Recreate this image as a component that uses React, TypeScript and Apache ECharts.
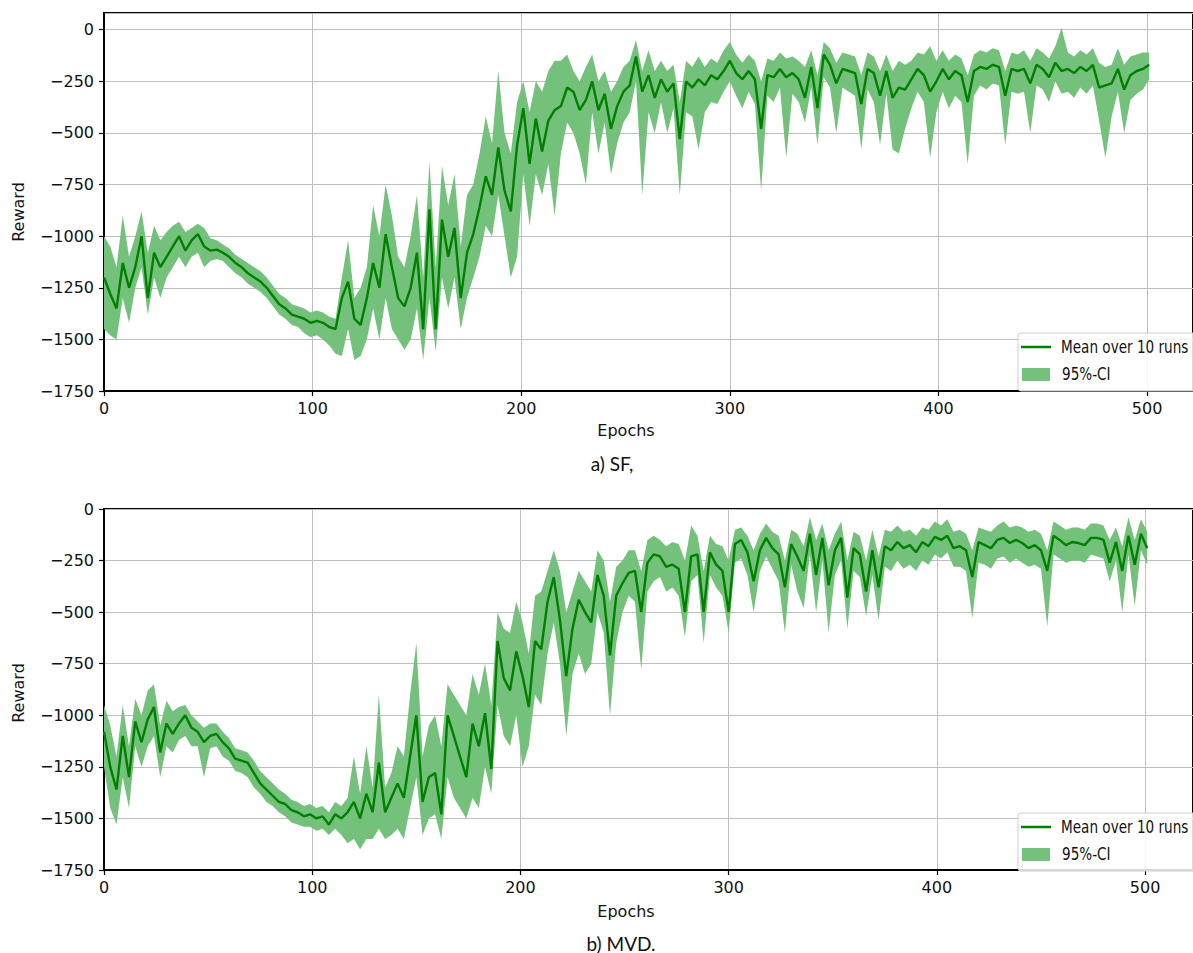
import React, { useEffect, useRef } from 'react';
import * as echarts from 'echarts';

// epochs sampled every 3 epochs (0 .. 501)
const epochs: number[] = Array.from({ length: 168 }, (_, i) => i * 3);

// ---------- a) SF ----------
const sfMean = [
  -1200, -1280, -1350, -1130, -1250, -1150, -1000, -1300, -1080, -1150,
  -1100, -1050, -1000, -1070, -1020, -990, -1050, -1070, -1065, -1080,
  -1100, -1130, -1150, -1180, -1200, -1220, -1250, -1290, -1330, -1350,
  -1380, -1390, -1400, -1420, -1410, -1420, -1440, -1450, -1300, -1220,
  -1400, -1430, -1300, -1130, -1250, -990, -1150,
  -1300, -1340, -1250, -1080, -1450, -870, -1450, -920, -1100, -960,
  -1300, -1080, -990, -860, -710, -800, -570, -780, -880, -560,
  -380, -650, -430, -590, -440, -390, -370, -280, -300, -390,
  -340, -250, -390, -310, -480, -370, -300, -270, -130, -300,
  -220, -330, -240, -300, -260, -530, -250, -280, -240, -270,
  -220, -240, -200, -150, -210, -240, -200, -240, -480, -220,
  -230, -190, -230, -210,
  -240, -330, -180, -380, -120, -170, -260, -190, -200, -210,
  -360, -190, -210, -320, -200, -330, -280, -290, -240, -190,
  -220, -300, -250, -190, -240, -200, -220, -350, -200, -180,
  -190, -170, -180, -320, -190, -200, -190, -260, -170, -190,
  -230, -160, -200, -190, -210, -180, -200, -170, -280, -270,
  -260, -190, -290, -220, -200, -190, -170,
];
const sfLower = [
  -1450, -1480, -1500, -1300, -1420, -1250, -1150, -1380, -1200, -1300,
  -1200, -1150, -1100, -1150, -1100, -1080, -1150, -1120, -1110, -1120,
  -1150, -1180, -1200, -1230, -1250, -1270, -1300, -1340, -1380, -1400,
  -1430, -1440, -1470, -1490, -1480, -1500, -1530, -1570, -1580, -1450,
  -1600, -1580, -1500, -1350, -1500, -1300, -1450,
  -1500, -1550, -1500, -1350, -1600, -1300, -1560, -1200, -1350, -1200,
  -1450, -1300, -1200, -1100, -950, -1000, -800, -1000, -1200, -1100,
  -700, -950, -700, -800, -650, -900, -600, -450, -500, -600,
  -750, -400, -600, -450, -700, -550, -450, -400, -250, -800,
  -400, -500, -350, -500, -380, -800, -400, -420, -580, -400,
  -350, -360, -300, -250, -320, -380, -300, -360, -780, -320,
  -350, -280, -620, -310,
  -350, -450, -280, -560, -230, -280, -500, -280, -300, -320,
  -580, -290, -350, -560, -310, -580, -600, -480, -380, -300,
  -350, -620, -400, -300, -380, -320, -350, -650, -320, -270,
  -290, -260, -270, -560, -300, -310, -300, -500, -270, -290,
  -350, -250, -310, -300, -330, -280, -310, -270, -440, -620,
  -420, -300, -500, -340, -310, -290, -240,
];
const sfUpper = [
  -1000, -1050, -1150, -900, -1100, -1000, -880, -1080, -950, -1020,
  -980, -950, -930, -980, -960, -940, -960, -1010, -1020, -1040,
  -1060, -1090, -1110, -1130, -1150, -1170, -1200, -1240, -1280, -1300,
  -1330, -1340, -1350, -1370, -1360, -1370, -1390, -1400, -1200, -1020,
  -1300, -1250, -1150, -850, -1000, -750, -900,
  -1100, -1150, -1000, -800, -1200, -640, -1150, -660, -850, -700,
  -1050, -800, -750, -600, -420, -550, -200, -500, -600, -350,
  -250, -400, -250, -300, -200, -150, -150, -120, -200, -250,
  -180, -120, -250, -200, -300, -250, -180, -150, -50, -200,
  -100, -200, -150, -200, -170, -350, -150, -180, -130, -180,
  -140, -160, -100, -60, -120, -160, -120, -150, -250, -140,
  -150, -110, -140, -130,
  -150, -180, -100, -220, -60, -90, -160, -110, -120, -130,
  -220, -110, -130, -200, -120, -200, -150, -170, -150, -110,
  -120, -80, -150, -100, -150, -120, -140, -220, -120, -100,
  -110, -90, -100, -200, -110, -120, -100, -150, -90, -110,
  -140, -80, 10, -110, -130, -100, -120, -90, -160, -180,
  -170, -90, -170, -130, -120, -110, -110,
];

// ---------- b) MVD ----------
const mvdMean = [
  -1080, -1250, -1360, -1100, -1300, -1030, -1130, -1020, -960, -1180,
  -1040, -1090, -1040, -1000, -1060, -1080, -1130, -1100, -1090, -1130,
  -1160, -1210, -1220, -1230, -1280, -1330, -1360, -1390, -1420, -1430,
  -1460, -1470, -1490, -1480, -1500, -1490, -1530, -1480, -1500, -1470,
  -1420, -1500, -1380, -1470, -1230, -1470, -1400,
  -1330, -1400, -1200, -1000, -1420, -1300, -1280, -1480, -1000, -1100,
  -1200, -1300, -1040, -1150, -990, -1260, -640, -820, -880, -690,
  -810, -960, -640, -680, -450, -330, -540, -810, -580, -440,
  -500, -550, -320, -420, -710, -420, -360, -310, -300, -500,
  -260, -220, -230, -280, -270, -290, -500, -230, -220, -500,
  -210, -270, -300, -500, -170, -150, -210, -350, -200, -140,
  -190, -220, -380, -170,
  -230, -300, -120, -320, -140, -370, -200, -140, -430, -190,
  -220, -400, -200, -380, -180, -200, -160, -190, -175, -210,
  -160, -180, -135, -150, -130, -190, -180, -200, -330, -160,
  -175, -190, -150, -140, -165, -150, -165, -190, -175, -200,
  -300, -130, -150, -175, -160, -165, -175, -140, -140, -150,
  -260, -160, -300, -130, -270, -120, -190,
];
const mvdLower = [
  -1250, -1450, -1530, -1300, -1450, -1150, -1250, -1150, -1100, -1300,
  -1150, -1180, -1120, -1100, -1150, -1150, -1300, -1160, -1150, -1200,
  -1220, -1270, -1280, -1300, -1350, -1380, -1420, -1440, -1470, -1490,
  -1520, -1530, -1540, -1540, -1560, -1550, -1580, -1550, -1580, -1620,
  -1600, -1650, -1600, -1600, -1550, -1600, -1580,
  -1550, -1600, -1450, -1300, -1580, -1500, -1480, -1600, -1300, -1400,
  -1450, -1500, -1400, -1450, -1250, -1380, -950, -1100, -1150, -1000,
  -1250, -1150, -900, -950, -700, -550, -750, -1100, -800, -700,
  -800, -750, -500, -600, -1000, -650, -500, -420, -450, -780,
  -400, -350, -330, -400, -380, -420, -620, -350, -320, -650,
  -320, -380, -420, -600, -260, -240, -320, -500, -300, -230,
  -290, -350, -600, -270,
  -400, -480, -220, -500, -250, -600, -320, -250, -580, -300,
  -330, -520, -320, -540, -280, -300, -250, -290, -270, -300,
  -250, -270, -220, -240, -210, -280, -280, -300, -530, -260,
  -270, -290, -240, -230, -260, -240, -260, -280, -270, -290,
  -570, -220, -240, -260, -250, -250, -260, -220, -230, -240,
  -350, -250, -500, -220, -470, -200, -270,
];
const mvdUpper = [
  -950, -1050, -1200, -950, -1150, -920, -1000, -880, -850, -1050,
  -930, -980, -960, -950, -1000, -1030, -1060, -1040, -1040, -1080,
  -1110, -1160, -1170, -1180, -1220, -1270, -1300, -1330, -1360, -1380,
  -1410, -1420, -1440, -1430, -1450, -1440, -1470, -1420, -1440, -1400,
  -1200, -1380, -1150, -1350, -900, -1350, -1280,
  -1150, -1200, -900, -650, -1200, -1050, -1000, -1150, -850, -900,
  -950, -1000, -800, -900, -750, -950, -500, -580, -600, -450,
  -550, -700, -420, -400, -300, -200, -300, -500, -400, -300,
  -350, -400, -200, -250, -450, -280, -250, -200, -200, -300,
  -150, -130, -150, -180, -160, -170, -250, -80, -130, -300,
  -130, -170, -180, -250, -100, -90, -130, -200, -120, -70,
  -110, -130, -250, -100,
  -120, -180, -40, -150, -70, -200, -120, -60, -250, -110,
  -130, -250, -100, -230, -100, -110, -80, -110, -100, -130,
  -90, -100, -60, -80, -50, -110, -100, -120, -200, -90,
  -100, -110, -80, -60, -90, -80, -90, -110, -100, -120,
  -200, -60, -80, -100, -90, -90, -100, -70, -70, -80,
  -150, -90, -180, -40, -150, -50, -110,
];

const meanName = 'Mean over 10 runs';
const ciName = '95%-CI';
const captions = ['a) SF,', 'b) MVD.'];

const LINE = '#008000';
const BAND = '#74c17b';
const TICK_FONT = '"DejaVu Sans", sans-serif';

function bandSeries(lower: number[], upper: number[], idx: number) {
  const n = Math.min(epochs.length, lower.length, upper.length);
  const data = epochs.slice(0, n).map((e, i) => [e, lower[i], upper[i]]);
  return {
    type: 'custom',
    name: ciName,
    xAxisIndex: idx,
    yAxisIndex: idx,
    data,
    encode: { x: 0, y: [1, 2] },
    silent: true,
    z: 1,
    renderItem: (params: any, api: any) => {
      if (params.dataIndex !== 0) return null;
      const top = data.map((d) => api.coord([d[0], d[2]]));
      const bot = data.map((d) => api.coord([d[0], d[1]])).reverse();
      return {
        type: 'polygon',
        shape: { points: top.concat(bot) },
        style: { fill: BAND, stroke: null },
      };
    },
  };
}

function meanSeries(mean: number[], idx: number) {
  const n = Math.min(epochs.length, mean.length);
  return {
    type: 'line',
    name: meanName,
    xAxisIndex: idx,
    yAxisIndex: idx,
    data: epochs.slice(0, n).map((e, i) => [e, mean[i]]),
    symbol: 'none',
    showSymbol: false,
    lineStyle: { color: LINE, width: 2.4 },
    itemStyle: { color: LINE },
    silent: true,
    z: 3,
  };
}

function xAxis(idx: number, max: number) {
  return {
    type: 'value',
    gridIndex: idx,
    min: 0,
    max,
    interval: 100,
    axisLine: { show: true, onZero: false, lineStyle: { color: '#000', width: 2 } },
    axisTick: { show: true, length: 5, lineStyle: { color: '#000', width: 1.2 } },
    axisLabel: { showMaxLabel: false, color: '#111', fontSize: 16, fontFamily: TICK_FONT, margin: 9 },
    splitLine: { show: true, lineStyle: { color: '#bdbdbd', width: 1 } },
  };
}

function yAxis(idx: number, max: number) {
  return {
    type: 'value',
    gridIndex: idx,
    min: -1750,
    max,
    interval: 250,
    axisLine: { show: true, lineStyle: { color: '#000', width: 2 } },
    axisTick: { show: true, length: 5, lineStyle: { color: '#000', width: 1.2 } },
    axisLabel: {
      showMaxLabel: max === 0,
      color: '#111',
      fontSize: 16,
      fontFamily: TICK_FONT,
      margin: 10,
      formatter: (v: number) => (v === 0 ? '0' : String(v).replace('-', '\u2212')),
    },
    splitLine: { show: true, lineStyle: { color: '#bdbdbd', width: 1 } },
  };
}

const LEGEND_FONT = '17px "DejaVu Sans", sans-serif';

function legendText(text: string, x: number, y: number) {
  return {
    type: 'text',
    x,
    y,
    scaleX: 0.8,
    style: {
      text,
      font: LEGEND_FONT,
      fill: '#111',
      textAlign: 'left',
      textVerticalAlign: 'middle',
      verticalAlign: 'middle',
    },
    z: 11,
  };
}

function legend(top: number) {
  return {
    type: 'group',
    children: [
      {
        type: 'rect',
        shape: { x: 1018, y: top, width: 200, height: 58, r: 3 },
        style: { fill: 'rgba(255,255,255,0.85)', stroke: '#cfcfcf', lineWidth: 1 },
        z: 10,
      },
      {
        type: 'line',
        shape: { x1: 1021, y1: top + 14, x2: 1051, y2: top + 14 },
        style: { stroke: LINE, lineWidth: 2.5 },
        z: 11,
      },
      {
        type: 'rect',
        shape: { x: 1022, y: top + 35, width: 28, height: 13 },
        style: { fill: BAND },
        z: 11,
      },
      legendText(meanName, 1061, top + 14),
      legendText(ciName, 1062, top + 41),
    ],
  };
}

function label(text: string, x: number, y: number, font: string, rotate = 0) {
  return {
    type: 'text',
    x,
    y,
    rotation: rotate,
    style: {
      text,
      font,
      fill: '#111',
      textAlign: 'center',
      textVerticalAlign: 'middle',
      verticalAlign: 'middle',
    },
    z: 12,
  };
}

export default function App() {
  const ref = useRef<HTMLDivElement>(null);
  useEffect(() => {
    if (!ref.current) return;
    const chart = echarts.init(ref.current, null, { renderer: 'svg' });
    const axisNameFont = '16px "DejaVu Sans", sans-serif';
    const capFont = '19px Lato, "Open Sans", sans-serif';
    chart.setOption({
      animation: false,
      backgroundColor: '#fff',
      grid: [
        { left: 104, top: 13, width: 1092, height: 378, show: true, borderColor: '#000', borderWidth: 2, backgroundColor: 'transparent' },
        { left: 104, top: 509, width: 1092, height: 361, show: true, borderColor: '#000', borderWidth: 2, backgroundColor: 'transparent' },
      ],
      xAxis: [xAxis(0, 522), xAxis(1, 523)],
      yAxis: [yAxis(0, 81), yAxis(1, 0)],
      series: [
        bandSeries(sfLower, sfUpper, 0),
        meanSeries(sfMean, 0),
        bandSeries(mvdLower, mvdUpper, 1),
        meanSeries(mvdMean, 1),
      ],
      graphic: [
        label('Reward', 18, 212, axisNameFont, Math.PI / 2),
        label('Reward', 18, 693, axisNameFont, Math.PI / 2),
        label('Epochs', 626, 430, axisNameFont),
        label('Epochs', 626, 911, axisNameFont),
        label(captions[0], 612, 463, capFont),
        label(captions[1], 621, 943, capFont),
        legend(333),
        legend(813),
      ],
    });
    return () => chart.dispose();
  }, []);
  return (
    <div
      ref={ref}
      style={{ position: 'absolute', left: 0, top: 0, width: 1193, height: 953, background: '#fff' }}
    />
  );
}
